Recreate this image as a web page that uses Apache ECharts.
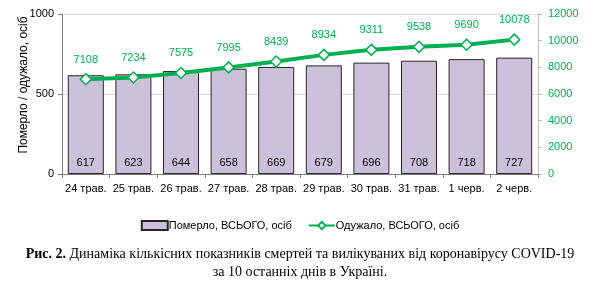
<!DOCTYPE html>
<html><head><meta charset="utf-8">
<script src="https://cdn.jsdelivr.net/npm/echarts@6/dist/echarts.min.js"></script>
<style>html,body{margin:0;padding:0;background:#fff}#c{width:600px;height:281px}</style>
</head><body><div id="c"></div>
<script>
var categories = ['24 трав.','25 трав.','26 трав.','27 трав.','28 трав.','29 трав.','30 трав.','31 трав.','1 черв.','2 черв.'];
var died = [617,623,644,658,669,679,696,708,718,727];
var recovered = [7108,7234,7575,7995,8439,8934,9311,9538,9690,10078];
var leftTicks = [0,500,1000];
var rightTicks = [0,2000,4000,6000,8000,10000,12000];
var seriesNames = ['Померло, ВСЬОГО, осіб','Одужало, ВСЬОГО, осіб'];
var yAxisName = 'Померло / одужало, осіб';
var captionBold = 'Рис. 2.';
var captionRest = ' Динаміка кількісних показників смертей та вилікуваних від коронавірусу COVID-19';
var captionLine2 = 'за 10 останніх днів в Україні.';

var FONT = 'Liberation Sans';
var GREEN = '#00B050';
var plain = function(v){ return String(v); };
var chart = echarts.init(document.getElementById('c'));
chart.setOption({
  animation:false,
  grid:{left:62,right:62,top:14,bottom:107},
  title:{
    text:'{b|'+captionBold+'}{n|'+captionRest+'}\n{n|'+captionLine2+'}',
    left:'center', top:240,
    textStyle:{fontWeight:'normal', rich:{
      b:{fontFamily:'Liberation Serif',fontWeight:'bold',fontSize:14,color:'#000',lineHeight:18},
      n:{fontFamily:'Liberation Serif',fontWeight:'normal',fontSize:14,color:'#000',lineHeight:18}
    }, align:'center'}
  },
  legend:{
    top:215, left:'center', itemGap:16, itemWidth:26, itemHeight:9,
    textStyle:{fontFamily:FONT,fontSize:11,color:'#000',padding:[0,0,0,-4]},
    data:[{name:seriesNames[0],icon:'rect'},{name:seriesNames[1]}]
  },
  xAxis:{
    type:'category', data:categories,
    axisLine:{lineStyle:{color:'#7f7f7f'}},
    axisTick:{show:true,lineStyle:{color:'#7f7f7f'},length:4},
    axisLabel:{interval:0,fontFamily:FONT,fontSize:11,color:'#000',margin:9}
  },
  yAxis:[{
    type:'value', min:0, max:1000, interval:500,
    name:yAxisName, nameLocation:'middle', nameGap:32, nameMoveOverlap:false,
    nameTextStyle:{fontFamily:FONT,fontSize:12,color:'#000',padding:[0,0,0,18]},
    axisLine:{show:true,lineStyle:{color:'#7f7f7f'}},
    axisTick:{show:true,lineStyle:{color:'#7f7f7f'},length:4},
    axisLabel:{fontFamily:FONT,fontSize:11,color:'#000',margin:8,formatter:plain},
    splitLine:{lineStyle:{color:'#d9d9d9'}}
  },{
    type:'value', min:0, max:12000, interval:2000,
    axisLine:{show:true,lineStyle:{color:'#bfbfbf'}},
    axisTick:{show:true,lineStyle:{color:'#bfbfbf'},length:4},
    axisLabel:{fontFamily:FONT,fontSize:11,color:GREEN,margin:10,formatter:plain},
    splitLine:{show:false}
  }],
  series:[{
    name:seriesNames[0], type:'bar', data:died, barWidth:36,
    itemStyle:{color:'#CCC1DA',borderColor:'#262626',borderWidth:1},
    label:{show:true,position:'insideBottom',distance:6,fontFamily:FONT,fontSize:11,color:'#000'}
  },{
    name:seriesNames[1], type:'line', yAxisIndex:1, data:recovered,
    symbol:'diamond', symbolSize:11,
    lineStyle:{color:GREEN,width:4},
    itemStyle:{color:'#fff',borderColor:GREEN,borderWidth:1.5},
    label:{show:true,position:'top',distance:8,fontFamily:FONT,fontSize:11,color:GREEN}
  }]
});
</script></body></html>
